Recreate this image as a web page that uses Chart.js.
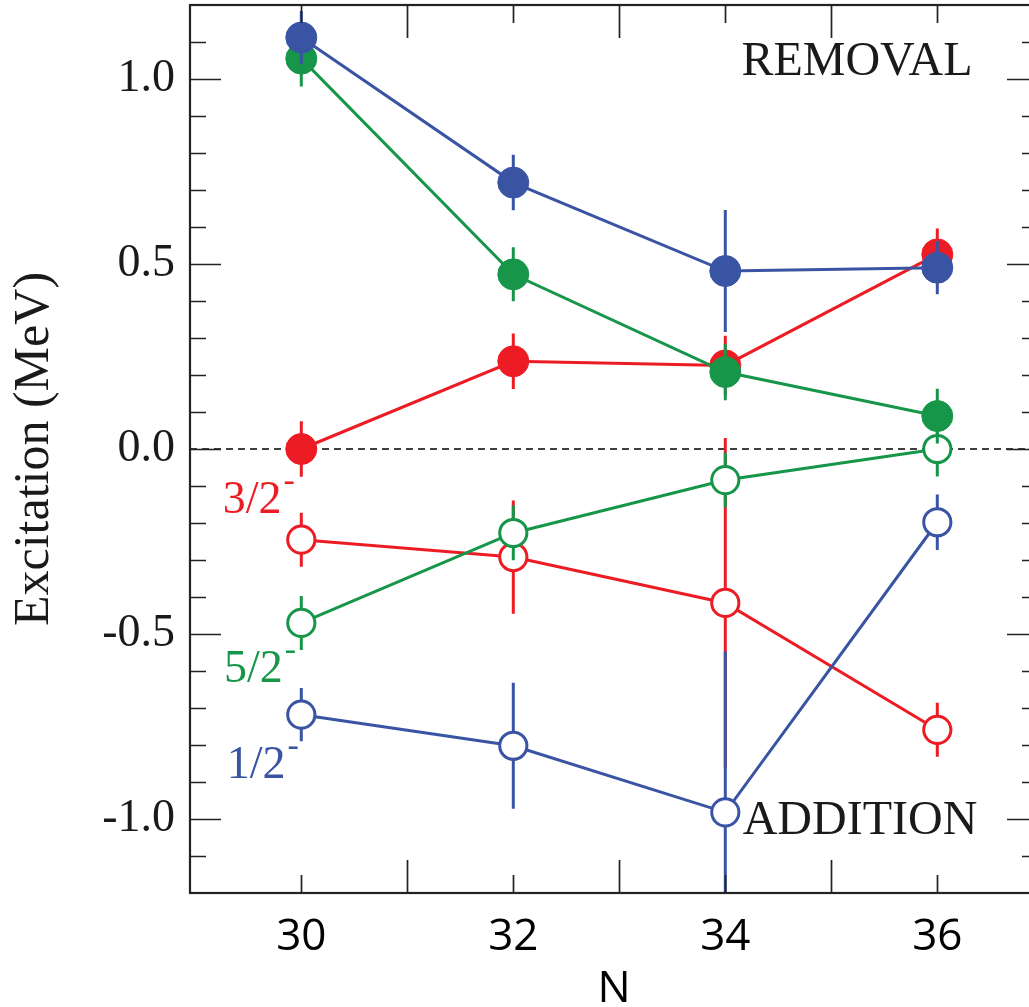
<!DOCTYPE html>
<html>
<head>
<meta charset="utf-8">
<script src="https://cdn.jsdelivr.net/npm/chart.js@4/dist/chart.umd.min.js"></script>
<style>
  html, body { margin: 0; padding: 0; background: #fff; overflow: hidden; }
  #wrap { width: 1060px; height: 1030px; }
</style>
</head>
<body>
<div id="wrap"><canvas id="c" width="1060" height="1030"></canvas></div>
<script>
// Neutron number N
const N = [30, 32, 34, 36];

// Removal (filled markers): excitation energy in MeV and its uncertainty
const removal32 = [0.000, 0.237, 0.226, 0.526];
const removal32Err = [0.075, 0.075, 0.080, 0.070];
const removal52 = [1.055, 0.472, 0.208, 0.089];
const removal52Err = [0.075, 0.073, 0.076, 0.074];
const removal12 = [1.112, 0.720, 0.481, 0.490];
const removal12Err = [0.072, 0.075, 0.165, 0.072];

// Addition (open markers)
const addition32 = [-0.245, -0.292, -0.416, -0.759];
const addition32Err = [0.073, 0.153, 0.446, 0.073];
const addition52 = [-0.470, -0.227, -0.084, 0.000];
const addition52Err = [0.073, 0.074, 0.074, 0.074];
const addition12 = [-0.718, -0.802, -0.982, -0.198];
const addition12Err = [0.072, 0.170, 0.435, 0.075];

// Tick labels
const xTickLabels = ['30', '32', '34', '36'];
const yTickLabels = ['-1.0', '-0.5', '0.0', '0.5', '1.0'];

const RED = '#ED1C24';
const GREEN = '#17964A';
const BLUE = '#3A54A4';
const INK = '#1a1a1a';

// Text annotations placed in data coordinates
const notes = [
  { text: 'REMOVAL', x: 34.152, y: 1.011, color: INK, size: 48 },
  { text: 'ADDITION', x: 34.164, y: -1.041, color: INK, size: 48 },
  { text: '3/2', sup: '-', x: 29.258, y: -0.173, color: RED, size: 46 },
  { text: '5/2', sup: '-', x: 29.271, y: -0.629, color: GREEN, size: 46 },
  { text: '1/2', sup: '-', x: 29.296, y: -0.889, color: BLUE, size: 46 }
];

function series(label, values, errors, color, filled) {
  return {
    label,
    data: N.map((n, i) => ({ x: n, y: values[i] })),
    errors,
    borderColor: color,
    backgroundColor: color,
    borderWidth: 3,
    tension: 0,
    fill: false,
    pointRadius: filled ? 15.5 : 13.6,
    pointHoverRadius: filled ? 15.5 : 13.6,
    pointBorderWidth: filled ? 1 : 3,
    pointBackgroundColor: filled ? color : '#ffffff',
    pointBorderColor: color
  };
}

// First dataset is drawn on top
const datasets = [
  series('1/2- removal', removal12, removal12Err, BLUE, true),
  series('1/2- addition', addition12, addition12Err, BLUE, false),
  series('5/2- removal', removal52, removal52Err, GREEN, true),
  series('5/2- addition', addition52, addition52Err, GREEN, false),
  series('3/2- removal', removal32, removal32Err, RED, true),
  series('3/2- addition', addition32, addition32Err, RED, false)
];

// Vertical error bars, drawn just before each dataset's line and markers
const errorBars = {
  id: 'errorBars',
  beforeDatasetDraw(chart, args) {
    const ds = chart.data.datasets[args.index];
    const meta = args.meta;
    const ys = chart.scales.y;
    const area = chart.chartArea;
    const ctx = chart.ctx;
    ctx.save();
    ctx.beginPath();
    ctx.rect(area.left, area.top, area.right - area.left, area.bottom - area.top);
    ctx.clip();
    ctx.strokeStyle = ds.borderColor;
    ctx.lineWidth = 3;
    ctx.beginPath();
    meta.data.forEach((pt, i) => {
      const v = ds.data[i].y;
      const e = ds.errors[i];
      ctx.moveTo(pt.x, ys.getPixelForValue(v + e));
      ctx.lineTo(pt.x, ys.getPixelForValue(v - e));
    });
    ctx.stroke();
    ctx.restore();
  }
};

// Dashed reference line at zero excitation
const zeroLine = {
  id: 'zeroLine',
  beforeDatasetsDraw(chart) {
    const { ctx, chartArea: a, scales: { y } } = chart;
    const py = y.getPixelForValue(0);
    ctx.save();
    ctx.strokeStyle = '#000';
    ctx.lineWidth = 1.6;
    ctx.setLineDash([7, 5]);
    ctx.beginPath();
    ctx.moveTo(a.left, py);
    ctx.lineTo(a.right, py);
    ctx.stroke();
    ctx.restore();
  }
};

// Text labels inside the plot
const noteLabels = {
  id: 'noteLabels',
  afterDatasetsDraw(chart) {
    const { ctx, scales: { x, y } } = chart;
    ctx.save();
    ctx.textBaseline = 'alphabetic';
    ctx.textAlign = 'left';
    notes.forEach(n => {
      const px = x.getPixelForValue(n.x);
      const py = y.getPixelForValue(n.y);
      ctx.fillStyle = n.color;
      ctx.font = n.size + 'px "Liberation Serif", "Times New Roman", serif';
      ctx.fillText(n.text, px, py);
      if (n.sup) {
        const w = ctx.measureText(n.text).width;
        ctx.font = '34px "Liberation Serif", "Times New Roman", serif';
        ctx.fillText(n.sup, px + w + 2, py - 22);
      }
    });
    ctx.restore();
  }
};

// Box frame with inward tick marks on all four sides
const frame = {
  id: 'frame',
  afterDraw(chart) {
    const { ctx, chartArea: a, scales: { x, y } } = chart;
    ctx.save();
    ctx.strokeStyle = '#222';
    ctx.lineWidth = 1.7;
    ctx.beginPath();
    // x ticks at every integer: odd values long, even values short
    for (let v = Math.ceil(x.min); v <= Math.floor(x.max); v++) {
      const px = Math.round(x.getPixelForValue(v)) + 0.5;
      if (px - a.left < 10 || a.right - px < 10) continue;
      const len = (v % 2 === 0) ? 18 : 33;
      ctx.moveTo(px, a.bottom); ctx.lineTo(px, a.bottom - len);
      ctx.moveTo(px, a.top); ctx.lineTo(px, a.top + len);
    }
    // y ticks every 0.1, major every 0.5
    for (let k = Math.ceil(y.min * 10 - 1e-6); k <= Math.floor(y.max * 10 + 1e-6); k++) {
      const py = Math.round(y.getPixelForValue(k / 10)) + 0.5;
      if (py - a.top < 10 || a.bottom - py < 10) continue;
      const len = (k % 5 === 0) ? 31 : 16;
      ctx.moveTo(a.left, py); ctx.lineTo(a.left + len, py);
      ctx.moveTo(a.right, py); ctx.lineTo(a.right - len, py);
    }
    ctx.stroke();
    ctx.lineWidth = 2.2;
    ctx.strokeRect(a.left, a.top, a.right - a.left, a.bottom - a.top);
    ctx.restore();
  }
};

new Chart(document.getElementById('c'), {
  type: 'line',
  data: { datasets },
  options: {
    responsive: false,
    maintainAspectRatio: false,
    devicePixelRatio: 1,
    animation: false,
    events: [],
    layout: { autoPadding: false, padding: { left: 0, top: 5, right: 22, bottom: 0 } },
    plugins: { legend: { display: false }, tooltip: { enabled: false } },
    scales: {
      x: {
        type: 'linear',
        min: 28.95,
        max: 36.95,
        grid: { display: false, drawTicks: false },
        border: { display: false },
        afterBuildTicks(scale) {
          scale.ticks = xTickLabels.map(l => ({ value: parseFloat(l) }));
        },
        ticks: {
          autoSkip: false,
          maxRotation: 0,
          padding: 18,
          color: '#000',
          font: { family: '"Open Sans", "Noto Sans", sans-serif', size: 44 },
          callback: v => xTickLabels.find(l => parseFloat(l) === v) || ''
        },
        title: {
          display: true,
          text: 'N',
          color: '#000',
          font: { family: '"Open Sans", "Noto Sans", sans-serif', size: 44 },
          padding: { top: 0, bottom: 14 }
        },
        afterFit(scale) {
          scale.height = 137;
          scale.paddingLeft = 0;
          scale.paddingRight = 0;
        }
      },
      y: {
        type: 'linear',
        min: -1.2,
        max: 1.2,
        grid: { display: false, drawTicks: false },
        border: { display: false },
        afterBuildTicks(scale) {
          scale.ticks = yTickLabels.map(l => ({ value: parseFloat(l) }));
        },
        ticks: {
          autoSkip: false,
          padding: 15,
          color: INK,
          font: { family: '"Liberation Serif", "Times New Roman", serif', size: 46 },
          callback: v => yTickLabels.find(l => Math.abs(parseFloat(l) - v) < 1e-6) || ''
        },
        title: {
          display: true,
          text: 'Excitation (MeV)',
          color: INK,
          font: { family: '"Liberation Serif", "Times New Roman", serif', size: 50 },
          padding: { top: 5, bottom: 0 }
        },
        afterFit(scale) {
          scale.width = 190;
          scale.paddingTop = 0;
          scale.paddingBottom = 0;
        }
      }
    }
  },
  plugins: [zeroLine, errorBars, noteLabels, frame]
});
</script>
</body>
</html>
